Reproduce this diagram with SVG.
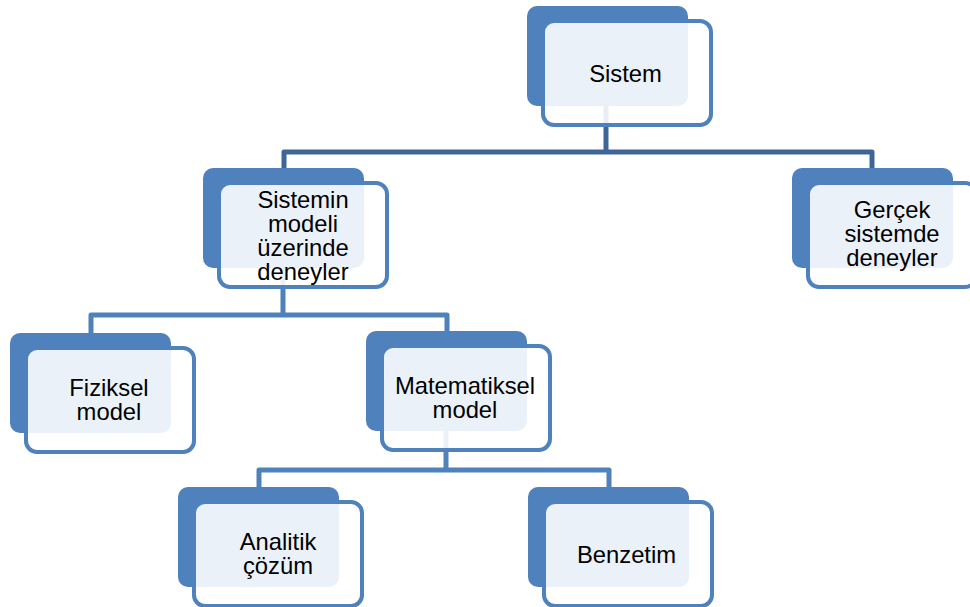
<svg xmlns="http://www.w3.org/2000/svg" width="970" height="607" viewBox="0 0 970 607">
  <style>
    .back { fill: #4F81BD; }
    .front { fill: #FFFFFF; fill-opacity: 0.89; stroke: #4F81BD; stroke-width: 4; }
    .link { fill: none; stroke: #4F81BD; stroke-width: 5; stroke-linejoin: round; }
    .link.top { stroke: #3E6797; }
    text { font-family: "Liberation Sans", Arial, sans-serif; font-size: 23.8px; fill: #000000; text-anchor: middle; }
  </style>
  <rect width="970" height="607" fill="#FFFFFF"/>

  <!-- connectors (drawn first so the translucent node faces tint them) -->
  <g id="connectors">
    <path class="link top" d="M606 100 V152 H284 V172 M606 152 H872 V172"/>
    <path class="link" d="M283 260 V315 H91 V336 M283 315 H447 V334"/>
    <path class="link" d="M446 425 V470 H259 V490 M446 470 H609 V490"/>
  </g>

  <g id="n-sistem" transform="translate(527,6)">
    <rect class="back" width="161" height="100" rx="10"/>
    <rect class="front" x="16" y="15" width="168" height="104" rx="11"/>
    <text x="98.5" y="76">Sistem</text>
  </g>

  <g id="n-model-deney" transform="translate(203,168)">
    <rect class="back" width="161" height="100" rx="10"/>
    <rect class="front" x="16" y="15" width="168" height="104" rx="11"/>
    <text x="100" y="40">Sistemin</text>
    <text x="100" y="64">modeli</text>
    <text x="100" y="88">üzerinde</text>
    <text x="100" y="112">deneyler</text>
  </g>

  <g id="n-gercek" transform="translate(792,168)">
    <rect class="back" width="161" height="100" rx="10"/>
    <rect class="front" x="16" y="15" width="168" height="104" rx="11"/>
    <text x="100" y="50">Gerçek</text>
    <text x="100" y="74">sistemde</text>
    <text x="100" y="98">deneyler</text>
  </g>

  <g id="n-fiziksel" transform="translate(10,333)">
    <rect class="back" width="161" height="100" rx="10"/>
    <rect class="front" x="16" y="15" width="168" height="104" rx="11"/>
    <text x="99" y="63">Fiziksel</text>
    <text x="99" y="87">model</text>
  </g>

  <g id="n-matematiksel" transform="translate(366,331)">
    <rect class="back" width="161" height="100" rx="10"/>
    <rect class="front" x="16" y="15" width="168" height="104" rx="11"/>
    <text x="99" y="63">Matematiksel</text>
    <text x="99" y="87">model</text>
  </g>

  <g id="n-analitik" transform="translate(178,487)">
    <rect class="back" width="161" height="100" rx="10"/>
    <rect class="front" x="16" y="15" width="168" height="104" rx="11"/>
    <text x="100" y="63">Analitik</text>
    <text x="100" y="87">çözüm</text>
  </g>

  <g id="n-benzetim" transform="translate(528,487)">
    <rect class="back" width="161" height="100" rx="10"/>
    <rect class="front" x="16" y="15" width="168" height="104" rx="11"/>
    <text x="98.5" y="76">Benzetim</text>
  </g>
</svg>
